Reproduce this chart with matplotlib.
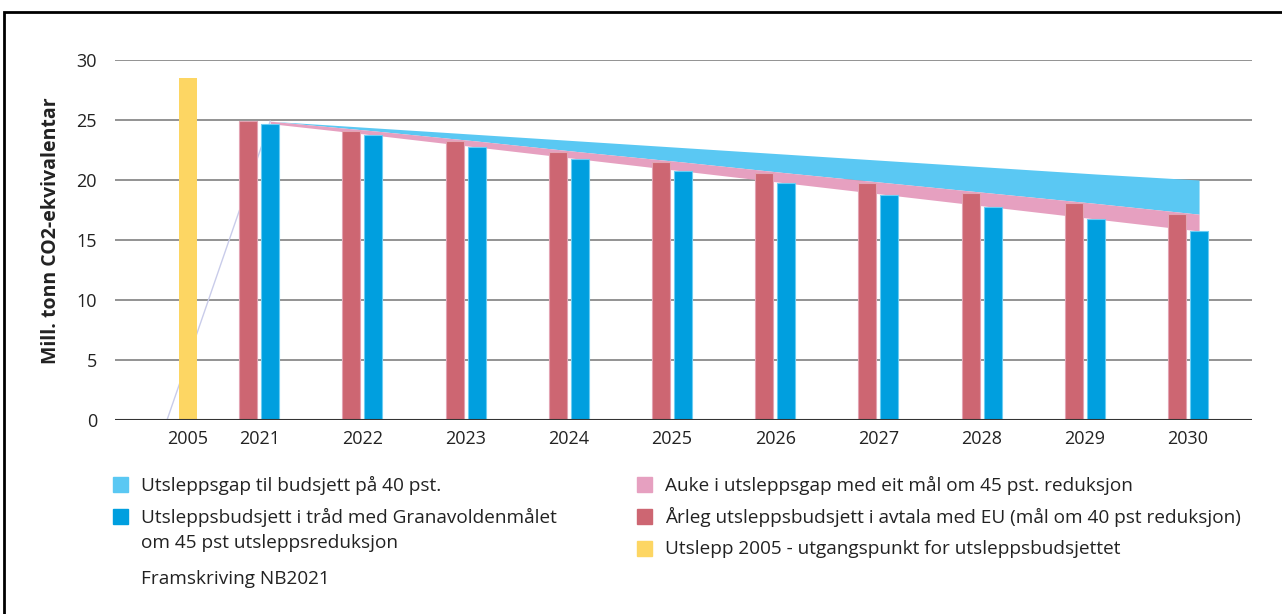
import numpy as np
import matplotlib.pyplot as plt
from matplotlib.patches import Rectangle

plt.rcParams['font.family'] = ['Open Sans', 'DejaVu Sans']

# Data (Mill. tonn CO2-ekvivalentar)
years = ['2005', '2021', '2022', '2023', '2024', '2025', '2026', '2027', '2028', '2029', '2030']
utslepp_2005 = 28.5
eu_budsjett = [24.9, 24.1, 23.25, 22.35, 21.5, 20.6, 19.75, 18.9, 18.05, 17.15]
granavolden = [24.7, 23.75, 22.75, 21.75, 20.75, 19.75, 18.75, 17.75, 16.75, 15.75]
framskriving = [0, 24.9, 24.35, 23.8, 23.25, 22.7, 22.15, 21.6, 21.05, 20.5, 20.0]

c_yellow = '#FDD663'
c_red = '#CD6672'
c_blue = '#009FDF'
c_lightblue = '#5AC8F3'
c_pink = '#E6A0C0'
c_line = '#C9CCEA'
c_text = '#222222'

fig = plt.figure(figsize=(12.82, 6.14), dpi=100)
ax = fig.add_axes([115 / 1282, 1 - 420 / 614, (1252 - 115) / 1282, 360 / 614])

x = np.arange(len(years))
x_b = x[1:]
w = 0.174
off = 0.107
shift_2005 = 0.31

# gridlines
for v in range(5, 31, 5):
    ax.axhline(v, color='#8a8a8a', lw=1.3, zorder=0)
ax.axhline(0, color='#333333', lw=1.5, zorder=5)

# Framskriving line (2005 -> 2021) and the gap areas
ax.plot(x[:2] + off, framskriving[:2], color=c_line, lw=1, zorder=1)
ax.fill_between(x_b + off, eu_budsjett, framskriving[1:], color=c_lightblue, lw=0, zorder=2)
ax.fill_between(x_b + off, granavolden, eu_budsjett, color=c_pink, lw=0, zorder=2)

# bars
ax.bar(x[0] + shift_2005, utslepp_2005, width=w, color=c_yellow, zorder=3)
ax.bar(x_b - off, eu_budsjett, width=w, color=c_red, edgecolor='#E3A3B3', lw=0.8, zorder=3)
ax.bar(x_b + off, granavolden, width=w, color=c_blue, edgecolor='#6CCDF3', lw=0.8, zorder=3)

ax.set_xlim(-0.397, 10.62)
ax.set_ylim(0, 30)
ax.set_yticks(range(0, 31, 5))
ticks = list(x.astype(float))
ticks[0] = x[0] + shift_2005
ax.set_xticks(ticks)
ax.set_xticklabels(years)
ax.tick_params(length=0, labelsize=13, colors=c_text, pad=7)
ax.tick_params(axis='y', pad=13)
for s in ax.spines.values():
    s.set_visible(False)

fig.text(51 / 1282, 1 - 231 / 614, 'Mill. tonn CO2-ekvivalentar', rotation=90,
         fontsize=14, fontweight='bold', ha='center', va='center', color=c_text)

# legend
fs = 13.7

def item(px, py, color, label):
    if color is not None:
        fig.patches.append(Rectangle((px / 1282, 1 - (py + 7) / 614), 15 / 1282, 15 / 614,
                                     transform=fig.transFigure, color=color))
    fig.text((px + 28) / 1282, 1 - py / 614, label, fontsize=fs, va='center', color=c_text)

item(113, 485, c_lightblue, 'Utsleppsgap til budsjett på 40 pst.')
item(113, 517, c_blue, 'Utsleppsbudsjett i tråd med Granavoldenmålet')
fig.text(141 / 1282, 1 - 543 / 614, 'om 45 pst utsleppsreduksjon', fontsize=fs,
         va='center', color=c_text)
fig.text(141 / 1282, 1 - 579 / 614, 'Framskriving NB2021', fontsize=fs,
         va='center', color=c_text)
item(637, 485, c_pink, 'Auke i utsleppsgap med eit mål om 45 pst. reduksjon')
item(637, 517, c_red, 'Årleg utsleppsbudsjett i avtala med EU (mål om 40 pst reduksjon)')
item(637, 549, c_yellow, 'Utslepp 2005 - utgangspunkt for utsleppsbudsjettet')

# frame
fig.patches.append(Rectangle((4 / 1282, -0.1), 1.1, 1.1 - 12 / 614, transform=fig.transFigure,
                             fill=False, lw=2, edgecolor='black'))

fig.savefig('out.png', dpi=100)
